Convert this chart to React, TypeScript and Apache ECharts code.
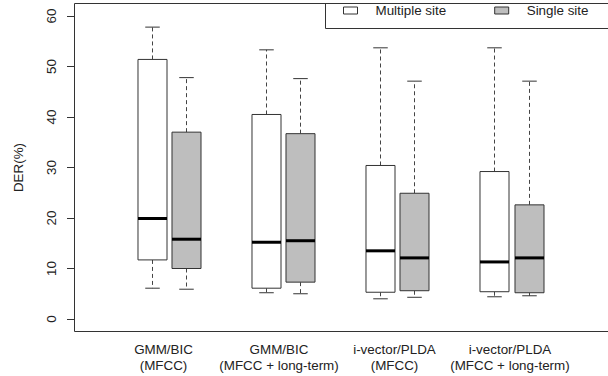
import React, { useEffect, useRef } from "react";
import * as echarts from "echarts";

// ---- data ----
const categories = [
  "GMM/BIC\n(MFCC)",
  "GMM/BIC\n(MFCC + long-term)",
  "i-vector/PLDA\n(MFCC)",
  "i-vector/PLDA\n(MFCC + long-term)",
];
const seriesNames = ["Multiple site", "Single site"];
// [lower whisker, Q1, median, Q3, upper whisker]
const multipleSite = [
  [6.1, 11.7, 19.9, 51.4, 57.8],
  [5.2, 6.1, 15.2, 40.5, 53.3],
  [4.0, 5.3, 13.5, 30.4, 53.7],
  [4.4, 5.4, 11.3, 29.2, 53.7],
];
const singleSite = [
  [5.9, 10.0, 15.8, 37.0, 47.8],
  [5.0, 7.3, 15.5, 36.7, 47.6],
  [4.3, 5.6, 12.1, 24.9, 47.1],
  [4.6, 5.2, 12.1, 22.6, 47.1],
];
const yMin = 0;
const yMax = 60;
const yInterval = 10;
const yName = "DER(%)";

// ---- layout / style ----
const FONT = "'Liberation Sans', Arial, Helvetica, sans-serif";
const FS = 13.4;
const TXT = "#222";
const GRID_LEFT = 74;
const GRID_TOP = 16;
const GRID_H = 303;
const GRID_W = 540;
const PX_PER_UNIT = 115.5;
const X_MIN = 0.17;
const X_MAX = X_MIN + GRID_W / PX_PER_UNIT;
const BOX_OFFSET = 0.15;
const BOX_W = 0.254;
const fills = ["#ffffff", "#bebebe"];

function makeRenderItem(fill: string) {
  return (params: any, api: any) => {
    const x = api.value(0);
    const pLo = api.coord([x, api.value(1)]);
    const pQ1 = api.coord([x, api.value(2)]);
    const pMed = api.coord([x, api.value(3)]);
    const pQ3 = api.coord([x, api.value(4)]);
    const pHi = api.coord([x, api.value(5)]);
    const w = api.size([BOX_W, 0])[0];
    const cx = Math.round(pMed[0]) + 0.5;
    const left = cx - w / 2;
    const capHalf = w / 4;
    const dash = { stroke: "#444", lineWidth: 1, lineDash: [4, 3] };
    const solid = { stroke: "#333", lineWidth: 1 };
    return {
      type: "group",
      children: [
        { type: "line", shape: { x1: cx, y1: pQ3[1], x2: cx, y2: pHi[1] }, style: dash },
        { type: "line", shape: { x1: cx, y1: pQ1[1], x2: cx, y2: pLo[1] }, style: dash },
        { type: "line", shape: { x1: cx - capHalf, y1: pHi[1], x2: cx + capHalf, y2: pHi[1] }, style: solid },
        { type: "line", shape: { x1: cx - capHalf, y1: pLo[1], x2: cx + capHalf, y2: pLo[1] }, style: solid },
        {
          type: "rect",
          shape: { x: left, y: pQ3[1], width: w, height: pQ1[1] - pQ3[1] },
          style: { fill, stroke: "#333", lineWidth: 1 },
        },
        {
          type: "line",
          shape: { x1: left, y1: pMed[1], x2: left + w, y2: pMed[1] },
          style: { stroke: "#000", lineWidth: 3 },
        },
      ],
    };
  };
}

export default function App() {
  const ref = useRef<HTMLDivElement>(null);
  useEffect(() => {
    document.body.style.margin = "0";
    if (!ref.current) return;
    const chart = echarts.init(ref.current, undefined, { renderer: "svg" });
    const groups = [multipleSite, singleSite];
    chart.setOption({
      animation: false,
      backgroundColor: "#ffffff",
      textStyle: { fontFamily: FONT },
      grid: [
        { left: GRID_LEFT, top: GRID_TOP, width: GRID_W, height: GRID_H },
        { left: 105.8, top: GRID_TOP, width: 461.9, height: GRID_H },
      ],
      xAxis: [
        {
          type: "value",
          gridIndex: 0,
          min: X_MIN,
          max: X_MAX,
          show: false,
        },
        {
          type: "category",
          gridIndex: 1,
          data: categories,
          boundaryGap: true,
          axisLine: { show: false },
          axisTick: { show: false },
          splitLine: { show: false },
          axisLabel: {
            interval: 0,
            margin: 22,
            fontFamily: FONT,
            fontSize: FS,
            lineHeight: 16,
            color: TXT,
          },
        },
      ],
      yAxis: [
        {
          type: "value",
          gridIndex: 0,
          min: yMin,
          max: yMax,
          interval: yInterval,
          name: yName,
          nameLocation: "middle",
          nameGap: 49,
          nameTextStyle: { fontFamily: FONT, fontSize: FS, color: TXT },
          axisLine: { show: true, lineStyle: { color: "#333", width: 1 } },
          axisTick: { show: true, inside: false, length: 7, lineStyle: { color: "#333" } },
          splitLine: { show: false },
          axisLabel: {
            rotate: 90,
            margin: 16,
            fontFamily: FONT,
            fontSize: FS,
            color: TXT,
          },
        },
        { type: "value", gridIndex: 1, min: 0, max: 1, show: false },
      ],
      legend: {
        data: seriesNames.map((n, i) => ({
          name: n,
          icon: "rect",
          itemStyle: { color: fills[i], borderColor: "#333", borderWidth: 1 },
        })),
        left: 343,
        top: 4,
        padding: 0,
        itemWidth: 14,
        itemHeight: 7,
        itemGap: 48,
        selectedMode: false,
        textStyle: { fontFamily: FONT, fontSize: FS, color: TXT, padding: [4, 0, 0, 13] },
      },
      graphic: [
        {
          type: "rect",
          shape: { x: 74.5, y: 3.5, width: 600, height: 328 },
          style: { fill: "none", stroke: "#333", lineWidth: 1 },
          silent: true,
        },
        {
          type: "rect",
          shape: { x: 325.5, y: 3.5, width: 300, height: 25 },
          style: { fill: "none", stroke: "#333", lineWidth: 1 },
          silent: true,
        },
      ],
      series: groups.map((g, si) => ({
        type: "custom",
        name: seriesNames[si],
        xAxisIndex: 0,
        yAxisIndex: 0,
        itemStyle: { color: fills[si], borderColor: "#333" },
        encode: { x: 0, y: [1, 2, 3, 4, 5] },
        data: g.map((d, i) => [i + 1 + (si === 0 ? -BOX_OFFSET : BOX_OFFSET), ...d]),
        renderItem: makeRenderItem(fills[si]),
        silent: true,
      })),
    });
    return () => chart.dispose();
  }, []);
  return <div ref={ref} style={{ width: 608, height: 376 }} />;
}
